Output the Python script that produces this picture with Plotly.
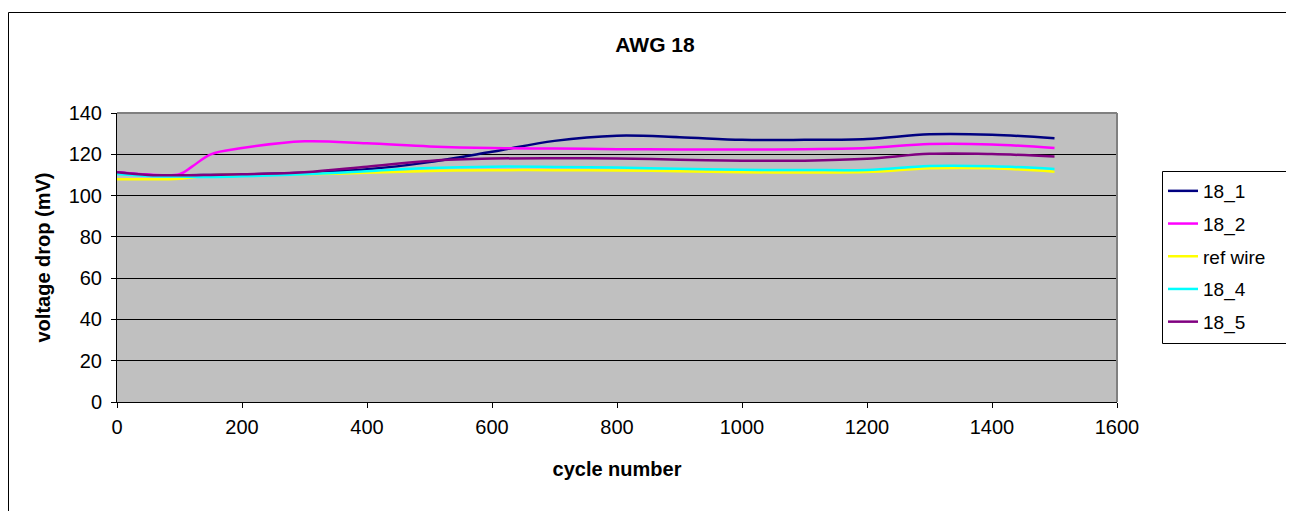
import plotly.graph_objects as go

cycles = [0, 50, 100, 150, 200, 300, 400, 500, 600, 700, 800, 900, 1000, 1100, 1200, 1300, 1400, 1500]
s18_1 = [111.3, 110.0, 109.8, 110.0, 110.2, 111.0, 112.7, 116.2, 121.2, 126.5, 129.0, 128.3, 127.0, 127.0, 127.4, 129.7, 129.5, 127.8]
s18_2_x = [0, 50, 100, 120, 150, 200, 300, 400, 500, 600, 700, 800, 900, 1000, 1100, 1200, 1300, 1400, 1500]
s18_2 = [111.3, 110.2, 110.3, 114.0, 120.0, 123.0, 126.3, 125.3, 123.8, 123.0, 122.8, 122.5, 122.3, 122.3, 122.5, 123.0, 125.0, 124.8, 123.0]
ref_wire = [107.9, 107.9, 108.2, 109.8, 110.1, 110.3, 111.0, 111.9, 112.3, 112.3, 112.2, 111.8, 111.3, 111.2, 111.4, 113.2, 113.2, 111.6]
s18_4 = [110.5, 109.5, 109.2, 109.0, 109.3, 110.3, 111.8, 113.3, 114.0, 113.9, 113.6, 113.0, 112.5, 112.4, 112.4, 114.3, 114.2, 112.9]
s18_5 = [111.3, 110.0, 109.8, 110.0, 110.3, 111.3, 114.0, 116.8, 117.9, 118.1, 118.0, 117.4, 116.9, 116.9, 117.8, 120.2, 120.1, 118.9]

series = [
    ("18_1", cycles, s18_1, "#000080"),
    ("18_2", s18_2_x, s18_2, "#FF00FF"),
    ("ref wire", cycles, ref_wire, "#FFFF00"),
    ("18_4", cycles, s18_4, "#00FFFF"),
    ("18_5", cycles, s18_5, "#800080"),
]

fig = go.Figure()
for name, xs, ys, col in series:
    fig.add_trace(go.Scatter(x=xs, y=ys, name=name, mode="lines", legendgroup=name,
                             line=dict(color=col, width=2.5, shape="spline", smoothing=1)))

font = "Arial, Liberation Sans, sans-serif"
OFF = 8  # page body margin
W, H = 1294 - OFF, 511 - OFF
L, R, T, B = 117 - OFF, 1117 - OFF, 113 - OFF, 402 - OFF

def px(xp):
    return (xp - OFF - L) / (R - L)

def py(yp):
    return (B - (yp - OFF)) / (B - T)

fig.update_layout(
    width=W, height=H, autosize=False,
    margin=dict(l=L, r=W - R, t=T, b=H - B),
    paper_bgcolor="white", plot_bgcolor="#C0C0C0",
    font=dict(family=font, size=20, color="black"),
    title=dict(text="<b>AWG 18</b>", x=(655 - OFF) / W, xanchor="center", y=1 - (45 - OFF) / H,
               yanchor="middle", font=dict(size=21, family=font)),
    showlegend=True,
    legend=dict(x=px(1163), xanchor="left", y=py(172), yanchor="top",
                borderwidth=0, bgcolor="rgba(0,0,0,0)", tracegroupgap=5,
                font=dict(size=19, family=font)),
    xaxis=dict(range=[0, 1600], dtick=200, tick0=0, showgrid=False, zeroline=False,
               showline=True, linecolor="black", linewidth=1, ticks="outside", ticklen=5,
               tickcolor="black", tickfont=dict(size=20), ticklabelstandoff=2,
               title=dict(text="<b>cycle number</b>", standoff=24, font=dict(size=20, family=font))),
    yaxis=dict(range=[0, 140], dtick=20, tick0=0, showgrid=True, gridcolor="black", gridwidth=1,
               zeroline=False, showline=True, linecolor="black", linewidth=1, ticks="outside",
               ticklen=5, tickcolor="black", tickfont=dict(size=20), ticklabelstandoff=5,
               title=dict(text="<b>voltage drop (mV)</b>", standoff=12, font=dict(size=20, family=font))),
)

# plot-area border (top and right grey)
fig.add_shape(type="line", xref="paper", yref="paper", x0=0, x1=1, y0=1, y1=1,
              line=dict(color="#808080", width=2), layer="above")
fig.add_shape(type="line", xref="paper", yref="paper", x0=1, x1=1, y0=0, y1=1,
              line=dict(color="#808080", width=2), layer="above")
# outer chart border (left and top edges visible)
fig.add_shape(type="line", xref="paper", yref="paper",
              x0=px(8.5), x1=px(1450), y0=py(12.5), y1=py(12.5),
              line=dict(color="black", width=1), layer="below")
fig.add_shape(type="line", xref="paper", yref="paper",
              x0=px(8.5), x1=px(8.5), y0=py(12.5), y1=py(700),
              line=dict(color="black", width=1), layer="below")
# legend frame extending past the right edge
fig.add_shape(type="rect", xref="paper", yref="paper",
              x0=px(1162.5), x1=px(1450), y0=py(171.5), y1=py(343.5),
              line=dict(color="black", width=1), fillcolor="white", layer="above")

fig.write_html("out.html")
